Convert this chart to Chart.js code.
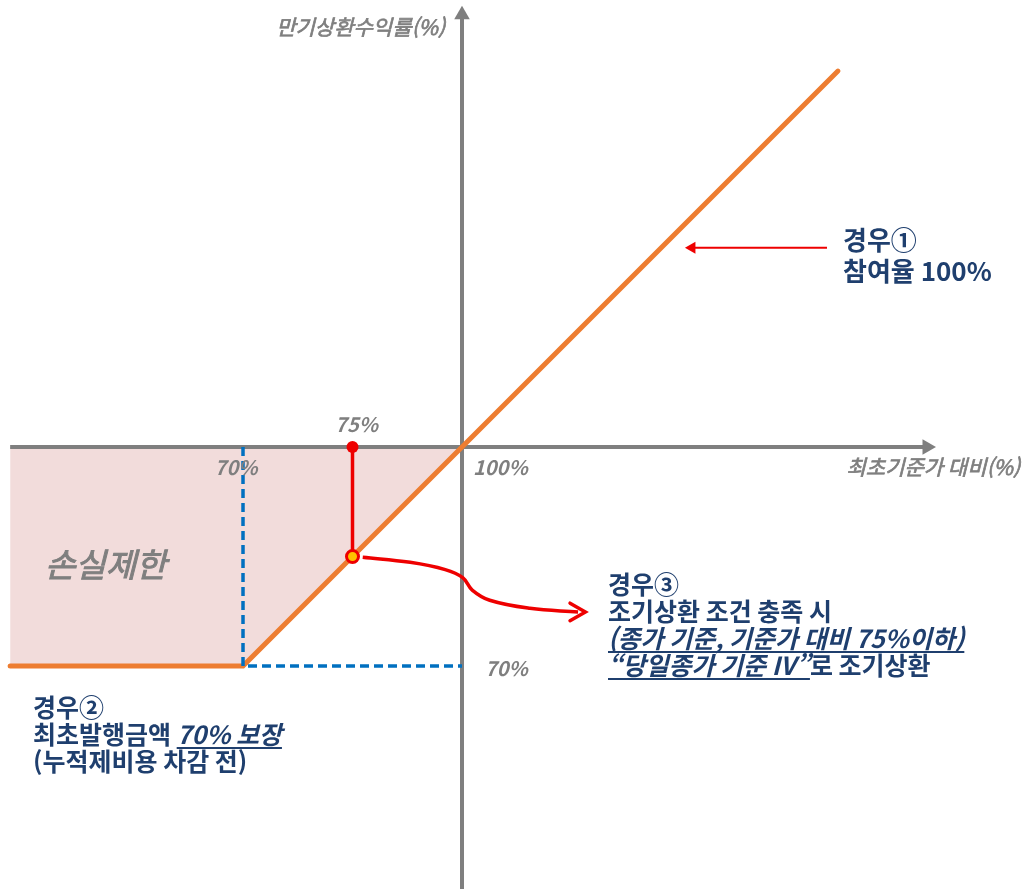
<!DOCTYPE html>
<html lang="ko">
<head>
<meta charset="utf-8">
<title>만기상환수익률 구조</title>
<script src="https://cdn.jsdelivr.net/npm/chart.js@4.4.0/dist/chart.umd.min.js"></script>
<style>
  html, body { margin: 0; padding: 0; background: #fff; }
  #wrap { width: 1030px; height: 889px; }
</style>
</head>
<body>
<div id="wrap"><canvas id="payoff" width="1030" height="889"></canvas></div>
<script>
// schematic units: origin = 기준가 100% / 수익률 0, one unit ~ one "%" step on the drawing
const payoffX = [-61.9, -30, 0, 51.5];
const payoffY = [-30, -30, 0, 51.5];
const floorStrike = -30;   // 70% 기준가
const floorLevel = -30;    // 70% 보장
const knockStrike = -15;   // 75% 조기상환
const knockPayoff = -15;

const axisX = [-61.9, 63.7];
const axisY = [-61, 59.2];

// red curved arrow from the 75% point to 경우③
const curveX = [-13.6, -7.1, -2.3, 0.1, 1.4, 3.8, 9.3, 15.9];
const curveY = [-15.1, -15.8, -16.8, -17.9, -19.6, -21.0, -22.1, -22.6];
const chevronX = [14.8, 16.9, 14.8];
const chevronY = [-21.4, -22.6, -23.8];

// red arrow pointing at the 100% participation line
const case1ArrowX = [50.0, 31.5];
const case1ArrowY = [27.3, 27.3];

const xTickValues = [-30, -15, 0];
const xTickLabels = ['70%', '75%', '100%'];
const yTickValues = [-30];
const yTickLabels = ['70%'];

const yAxisTitle = '만기상환수익률(%)';
const xAxisTitle = '최초기준가 대비(%)';
const lossLabel = '손실제한';

const case1Lines = [[{ t: '경우①' }], [{ t: '참여율 100%' }]];
const case2Lines = [
  [{ t: '경우②' }],
  [{ t: '최초발행금액 ' }, { t: '70% 보장', i: true, u: true }],
  [{ t: '(누적제비용 차감 전)' }]
];
const case3Lines = [
  [{ t: '경우③' }],
  [{ t: '조기상환 조건 충족 시' }],
  [{ t: '(종가 기준, 기준가 대비 75%이하)', i: true, u: true }],
  [{ t: '“당일종가 기준 IV”', i: true, u: true }, { t: '로 조기상환' }]
];

const FONT = "'Noto Sans CJK KR', 'Noto Sans', sans-serif";
const GRAY = '#7f7f7f';
const NAVY = '#1f3f6e';
const RED = '#ee0000';

const pts = (xs, ys) => xs.map((x, i) => ({ x: x, y: ys[i] }));

// text that is not a Chart.js scale label
const annotations = {
  id: 'annotations',
  afterDatasetsDraw(chart) {
    const ctx = chart.ctx;
    const sx = chart.scales.x, sy = chart.scales.y;
    const ox = sx.getPixelForValue(0), oy = sy.getPixelForValue(0);
    ctx.save();
    ctx.fillStyle = GRAY;
    ctx.strokeStyle = GRAY;
    ctx.textBaseline = 'middle';

    // tick labels
    ctx.font = 'italic bold 20px ' + FONT;
    xTickValues.forEach((v, i) => {
      const px = sx.getPixelForValue(v);
      if (v === knockStrike) {
        ctx.textAlign = 'center';
        ctx.fillText(xTickLabels[i], px + 4, oy - 23);
      } else if (v === 0) {
        ctx.textAlign = 'left';
        ctx.fillText(xTickLabels[i], px + 11, oy + 20);
      } else {
        ctx.textAlign = 'center';
        ctx.fillText(xTickLabels[i], px - 7, oy + 20);
      }
    });
    ctx.textAlign = 'left';
    yTickValues.forEach((v, i) => {
      ctx.fillText(yTickLabels[i], ox + 23, sy.getPixelForValue(v) + 2);
    });

    // axis titles (thin stroke to get a medium weight)
    ctx.font = 'italic 21px ' + FONT;
    ctx.textAlign = 'right';
    ctx.lineWidth = 0.7;
    ctx.fillText(yAxisTitle, ox - 17, 27);
    ctx.strokeText(yAxisTitle, ox - 17, 27);
    ctx.fillText(xAxisTitle, 1020, oy + 20);
    ctx.strokeText(xAxisTitle, 1020, oy + 20);

    ctx.font = 'italic 33px ' + FONT;
    ctx.textAlign = 'left';
    ctx.lineWidth = 1;
    ctx.fillText(lossLabel, 45, 564);
    ctx.strokeText(lossLabel, 45, 564);

    // case notes
    const drawBlock = (lines, x, y0, gap, size) => {
      lines.forEach((parts, li) => {
        let cx = x;
        const y = y0 + li * gap;
        parts.forEach(p => {
          ctx.font = (p.i ? 'italic ' : '') + 'bold ' + size + 'px ' + FONT;
          ctx.fillText(p.t, cx, y);
          const w = ctx.measureText(p.t).width;
          if (p.u) ctx.fillRect(cx, y + 13, w, 2);
          cx += w;
        });
      });
    };
    ctx.fillStyle = NAVY;
    drawBlock(case1Lines, 843, 240, 31, 26);
    drawBlock(case2Lines, 33, 707, 27, 25);
    drawBlock(case3Lines, 608, 584, 27, 25);
    ctx.restore();
  }
};

new Chart(document.getElementById('payoff'), {
  type: 'scatter',
  data: {
    datasets: [
      {
        // 손실제한 area between the payoff and zero
        data: pts(payoffX.slice(0, 3), payoffY.slice(0, 3)),
        showLine: true,
        borderWidth: 0,
        borderColor: 'rgba(0,0,0,0)',
        backgroundColor: '#f2dcdb',
        fill: { value: 0 },
        pointRadius: 0,
        order: 10
      },
      {
        data: pts(axisX, [0, 0]),
        showLine: true,
        borderColor: GRAY,
        borderWidth: 4,
        pointRadius: [0, 9],
        pointStyle: 'triangle',
        pointRotation: 90,
        pointBackgroundColor: GRAY,
        pointBorderWidth: 0,
        order: 8
      },
      {
        data: pts([0, 0], axisY),
        showLine: true,
        borderColor: GRAY,
        borderWidth: 4,
        pointRadius: [0, 9],
        pointStyle: 'triangle',
        pointRotation: 0,
        pointBackgroundColor: GRAY,
        pointBorderWidth: 0,
        order: 8
      },
      {
        data: pts(payoffX, payoffY),
        showLine: true,
        borderColor: '#ed7d31',
        borderWidth: 5,
        borderCapStyle: 'round',
        pointRadius: 0,
        order: 6
      },
      {
        data: pts([floorStrike, floorStrike, 0], [0, floorLevel, floorLevel]),
        showLine: true,
        borderColor: '#0070c0',
        borderWidth: 3.5,
        borderDash: [9, 5],
        pointRadius: 0,
        order: 5
      },
      {
        data: pts([knockStrike, knockStrike], [0, knockPayoff]),
        showLine: true,
        borderColor: RED,
        borderWidth: 3.5,
        pointRadius: [6, 0],
        pointBackgroundColor: RED,
        pointBorderWidth: 0,
        order: 3
      },
      {
        data: pts(curveX, curveY),
        showLine: true,
        borderColor: RED,
        borderWidth: 3.5,
        tension: 0.4,
        pointRadius: 0,
        order: 3
      },
      {
        data: pts(chevronX, chevronY),
        showLine: true,
        borderColor: RED,
        borderWidth: 3.5,
        borderCapStyle: 'round',
        borderJoinStyle: 'miter',
        pointRadius: 0,
        order: 3
      },
      {
        data: pts(case1ArrowX, case1ArrowY),
        showLine: true,
        borderColor: RED,
        borderWidth: 2,
        pointRadius: [0, 7],
        pointStyle: 'triangle',
        pointRotation: 270,
        pointBackgroundColor: RED,
        pointBorderWidth: 0,
        order: 3
      },
      {
        data: [{ x: knockStrike, y: knockPayoff }],
        pointRadius: 6,
        pointBackgroundColor: '#ffc000',
        pointBorderColor: RED,
        pointBorderWidth: 3,
        order: 1
      }
    ]
  },
  options: {
    responsive: false,
    animation: false,
    events: [],
    layout: { padding: 0, autoPadding: false },
    datasets: { scatter: { clip: false } },
    scales: {
      x: { type: 'linear', display: false, min: -63.29, max: 77.81 },
      y: { type: 'linear', display: false, min: -60.55, max: 61.23 }
    },
    plugins: {
      legend: { display: false },
      tooltip: { enabled: false }
    }
  },
  plugins: [annotations]
});
</script>
</body>
</html>
